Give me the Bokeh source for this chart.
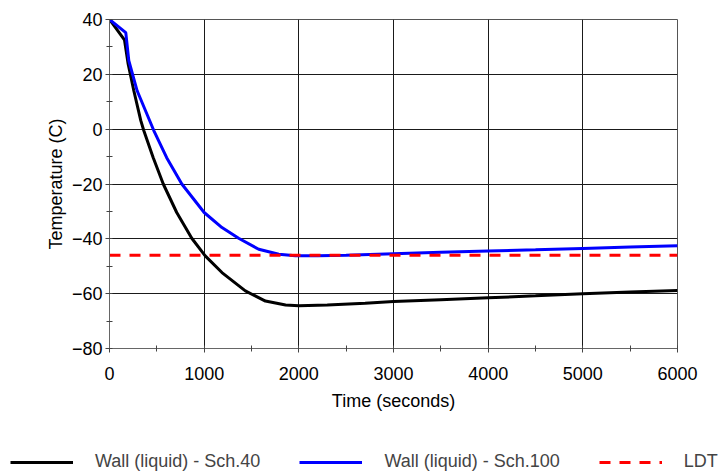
from bokeh.plotting import figure
from bokeh.models import Legend, LegendItem, Range1d, SingleIntervalTicker
from bokeh.embed import file_html
from bokeh.resources import INLINE

# ---- data ----
t_sch40 = [0, 158, 197, 257, 330, 362, 462, 568, 710, 869, 1011, 1188, 1435, 1647, 1860,
           2000, 2300, 2700, 3000, 3500, 4000, 4500, 5000, 5500, 6000]
temp_sch40 = [40, 32.6, 23.8, 14, 3.2, -0.5, -10.4, -20, -30.4, -39.8, -46.2, -52.3, -59, -62.7, -64.1,
              -64.4, -64.1, -63.5, -62.9, -62.2, -61.5, -60.8, -60.0, -59.4, -58.8]

t_sch100 = [0, 172, 204, 292, 468, 604, 764, 1000, 1188, 1364, 1576, 1788, 1965,
            2200, 2500, 3000, 3500, 4000, 4500, 5000, 5500, 6000]
temp_sch100 = [40, 35.2, 25, 14, -0.5, -10.4, -20, -30.4, -35.9, -39.8, -43.8, -45.6, -46.2,
               -46.2, -46.0, -45.4, -44.9, -44.4, -44.0, -43.5, -43.0, -42.5]

ldt_value = -46
ldt_t = [0, 6000]
ldt_temp = [ldt_value, ldt_value]

labels = ["Wall (liquid) - Sch.40", "Wall (liquid) - Sch.100", "LDT"]

FONT = "Liberation Sans"
styles = [dict(line_color="black", line_width=3),
          dict(line_color="#0000ff", line_width=3),
          dict(line_color="#ff0000", line_width=3, line_dash="11 9")]

p = figure(width=721, height=430, output_backend="svg", toolbar_location=None,
           x_range=Range1d(0, 6000), y_range=Range1d(-80, 40),
           min_border_left=109, min_border_right=44, min_border_top=19, min_border_bottom=82)
p.outline_line_color = "#555555"
p.outline_line_width = 1
p.background_fill_color = "white"
p.border_fill_color = "white"

p.line(t_sch40, temp_sch40, **styles[0])
p.line(t_sch100, temp_sch100, **styles[1])
p.line(ldt_t, ldt_temp, **styles[2])

p.xaxis.ticker = SingleIntervalTicker(interval=1000, num_minor_ticks=2)
p.yaxis.ticker = SingleIntervalTicker(interval=20, num_minor_ticks=2)

for ax in (p.xaxis, p.yaxis):
    ax.axis_line_color = "#666666"
    ax.major_tick_line_color = "#444444"
    ax.minor_tick_line_color = "#444444"
    ax.major_tick_in = 0
    ax.major_tick_out = 4
    ax.minor_tick_in = 3
    ax.minor_tick_out = 3
    ax.major_label_text_font = FONT
    ax.major_label_text_font_size = "18px"
    ax.major_label_text_color = "black"
    ax.axis_label_text_font = FONT
    ax.axis_label_text_font_size = "18px"
    ax.axis_label_text_font_style = "normal"
    ax.axis_label_text_color = "black"

p.xaxis.axis_label = "Time (seconds)"
p.yaxis.axis_label = "Temperature (C)"
p.xaxis.major_label_standoff = 14
p.xaxis.axis_label_standoff = 8
p.yaxis.major_label_standoff = 3
p.yaxis.axis_label_standoff = 3

p.xgrid.grid_line_color = "#1a1a1a"
p.ygrid.grid_line_color = "#1a1a1a"
p.xgrid.grid_line_width = 1
p.ygrid.grid_line_width = 1

# ---- legend strip below the chart (separate root, so its frame spans the full width) ----
lg = figure(width=721, height=42, output_backend="svg", toolbar_location=None,
            x_axis_type=None, y_axis_type=None,
            x_range=Range1d(0, 6000), y_range=Range1d(-80, 40),
            min_border_left=0, min_border_right=0, min_border_top=0, min_border_bottom=0)
lg.grid.visible = False
lg.outline_line_color = None
lg.background_fill_color = "white"
lg.border_fill_color = "white"

k1 = lg.line(t_sch40, temp_sch40, visible=False, **styles[0])
k2 = lg.line(t_sch100, temp_sch100, visible=False, **styles[1])
k3 = lg.line(ldt_t, ldt_temp, visible=False, **styles[2])

legend = Legend(items=[LegendItem(label=labels[0], renderers=[k1]),
                       LegendItem(label=labels[1], renderers=[k2]),
                       LegendItem(label=labels[2], renderers=[k3])],
                orientation="horizontal", location=(10, 0),
                glyph_width=63, glyph_height=16, label_height=16, label_standoff=22,
                spacing=39, padding=0, margin=0,
                border_line_color=None, background_fill_alpha=0,
                inactive_fill_alpha=0,
                label_text_font=FONT, label_text_font_size="18px")
lg.add_layout(legend)

open("out.html", "w").write(file_html([p, lg], INLINE))
